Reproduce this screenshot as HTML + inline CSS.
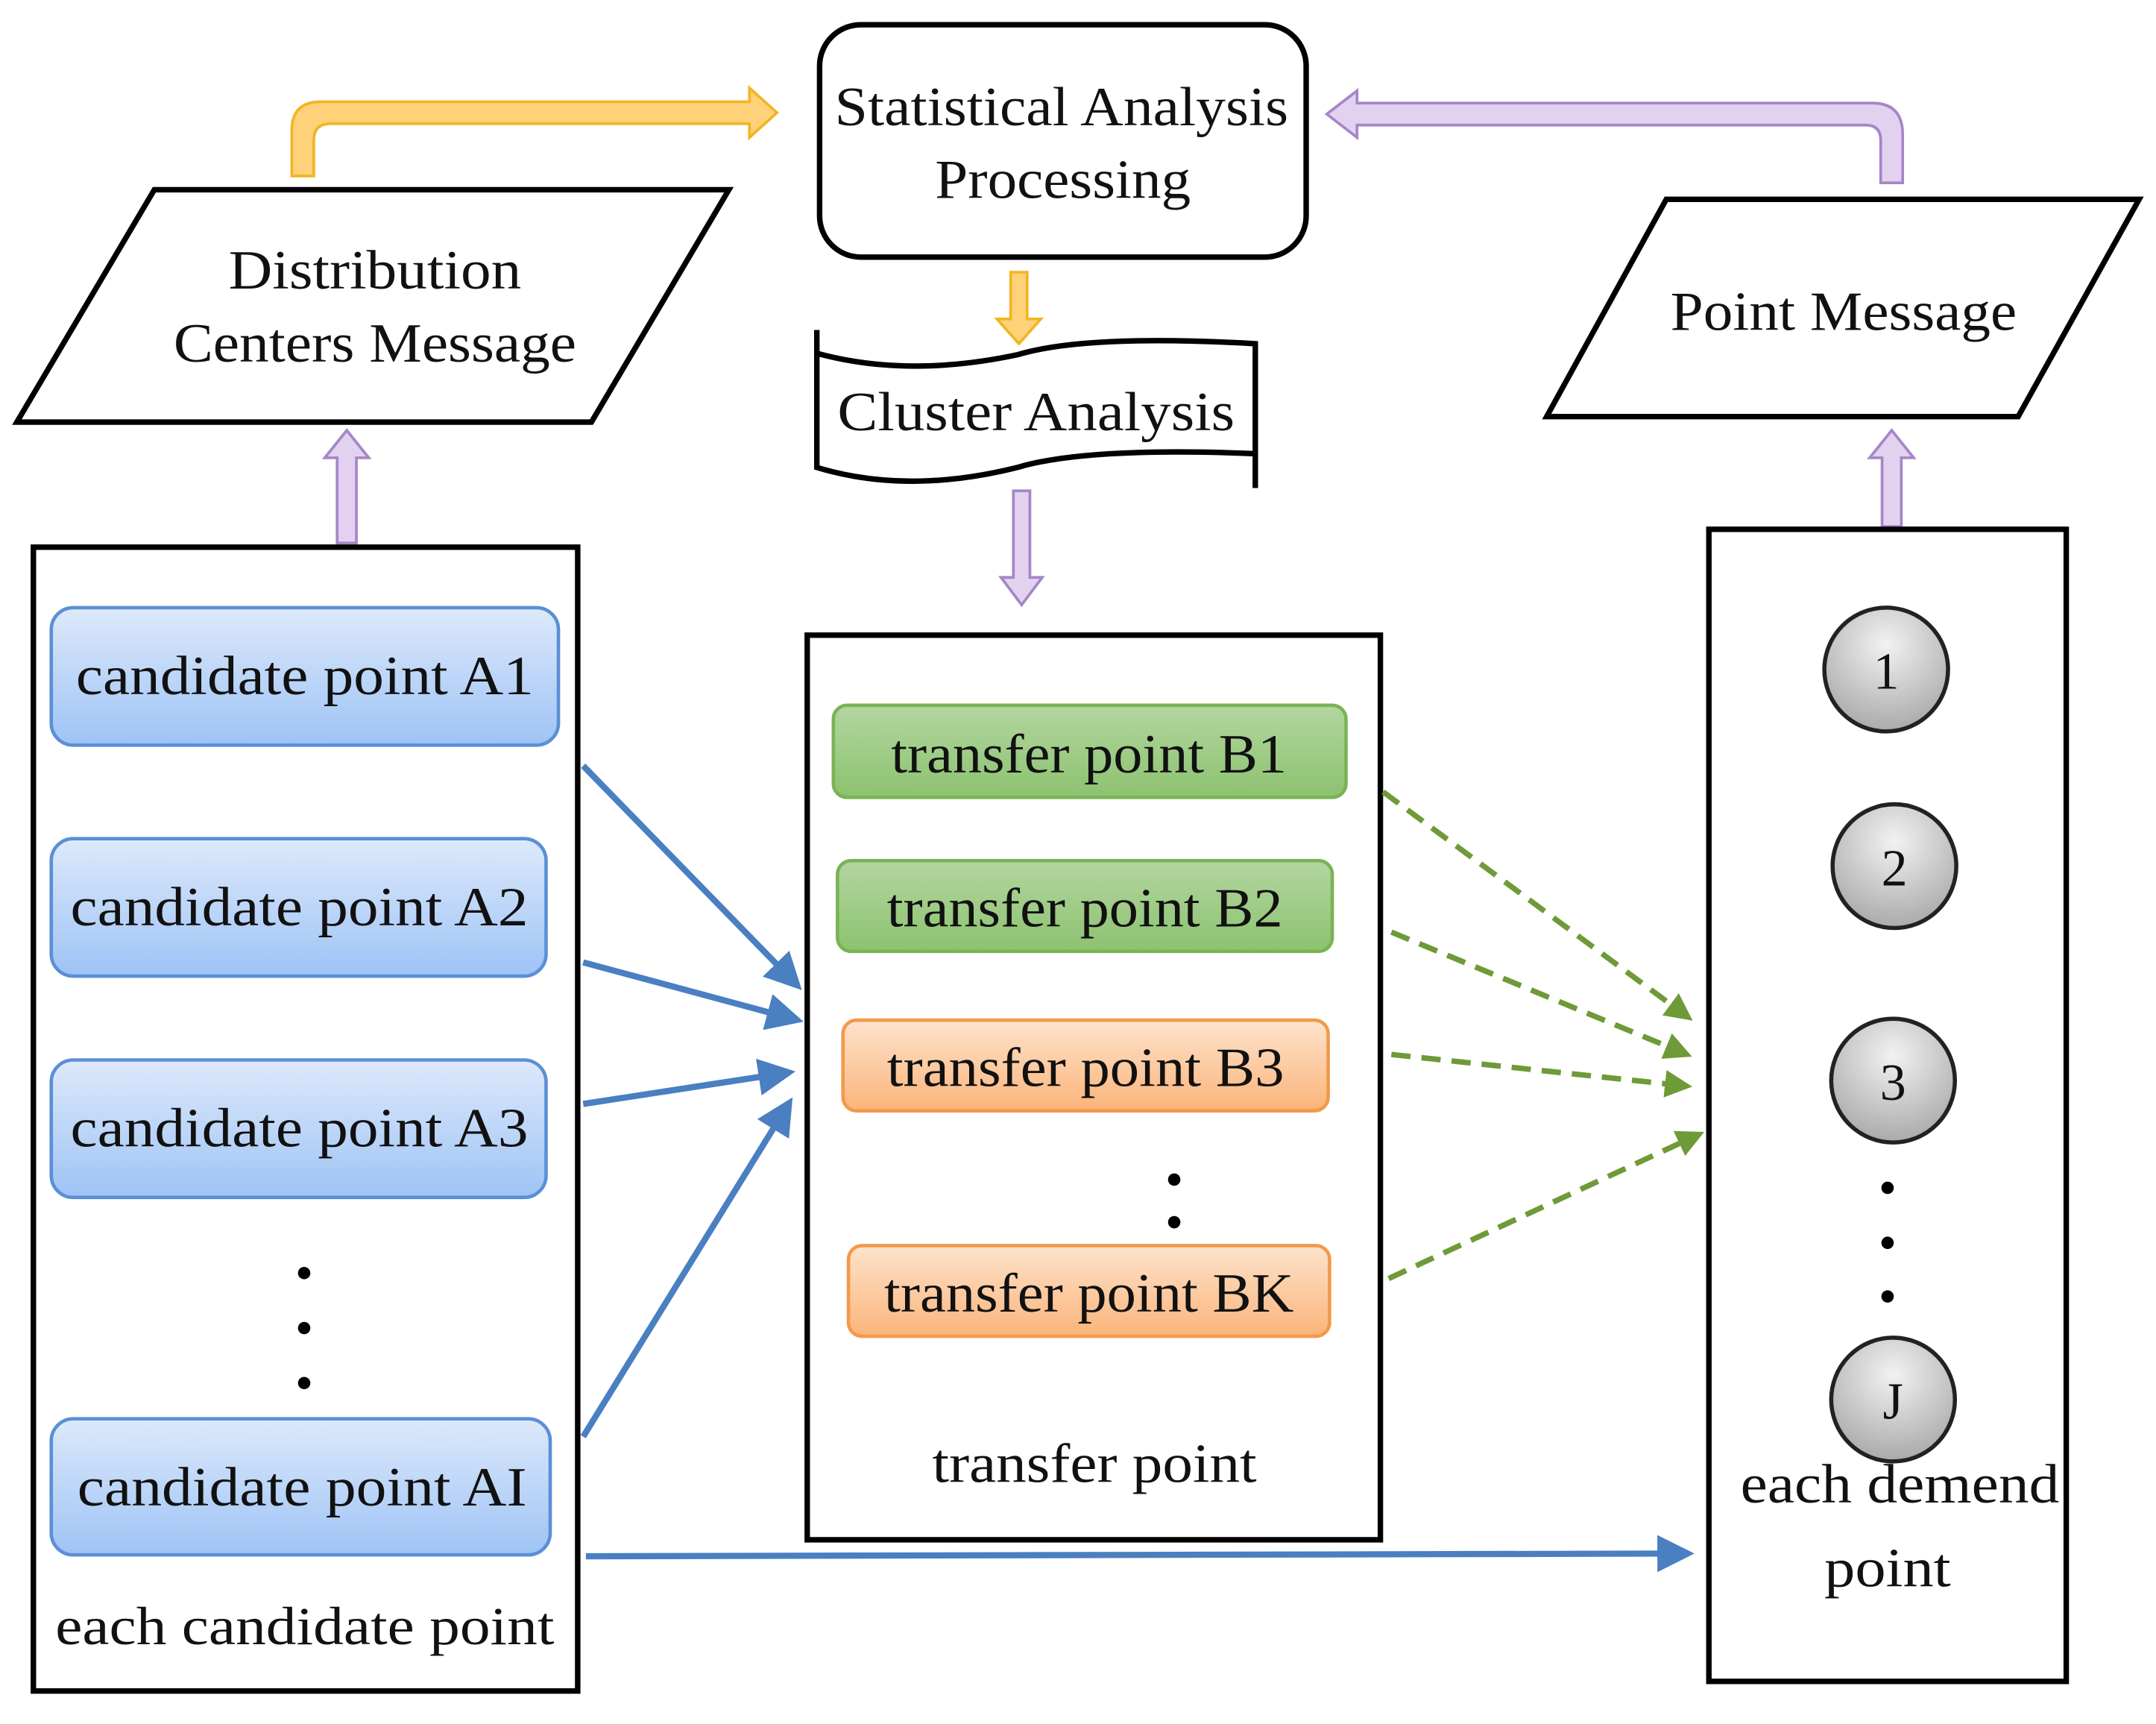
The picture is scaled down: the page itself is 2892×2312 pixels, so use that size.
<!DOCTYPE html>
<html><head><style>html,body{margin:0;padding:0;background:#fff}svg{display:block}text{font-family:"Liberation Serif",serif;fill:#111}</style></head>
<body>
<svg width="2892" height="2312" viewBox="0 0 1568 1254" xmlns="http://www.w3.org/2000/svg">
<defs>
<linearGradient id="gb" x1="0" y1="0" x2="0" y2="1"><stop offset="0" stop-color="#dde9fb"/><stop offset="1" stop-color="#9ec3f5"/></linearGradient>
<linearGradient id="gg" x1="0" y1="0" x2="0" y2="1"><stop offset="0" stop-color="#b3d6a0"/><stop offset="1" stop-color="#8cc26f"/></linearGradient>
<linearGradient id="go" x1="0" y1="0" x2="0" y2="1"><stop offset="0" stop-color="#fde3cc"/><stop offset="1" stop-color="#fbb47a"/></linearGradient>
<radialGradient id="gc" cx="0.5" cy="0.3" r="0.7"><stop offset="0" stop-color="#f2f2f2"/><stop offset="1" stop-color="#aaa"/></radialGradient>
<marker id="ab" markerWidth="6" markerHeight="6" refX="5" refY="3" orient="auto" markerUnits="strokeWidth"><path d="M0,0 L6,3 L0,6 z" fill="#4a7fc1"/></marker>
<marker id="ag" markerWidth="5" markerHeight="5" refX="4" refY="2.5" orient="auto" markerUnits="strokeWidth"><path d="M0,0 L5,2.5 L0,5 z" fill="#6f9a38"/></marker>
</defs>

<rect x="596" y="18" width="354" height="169" rx="30" fill="#fff" stroke="#000" stroke-width="4"/>
<text x="607" y="91" font-size="40" textLength="330" lengthAdjust="spacingAndGlyphs">Statistical Analysis</text>
<text x="680" y="144" font-size="40" textLength="186" lengthAdjust="spacingAndGlyphs">Processing</text>

<path d="M212,128 L212,95 Q212,74 233,74 L545,74 L545,64 L565,82 L545,100 L545,90 L240,90 Q228,90 228,102 L228,128 Z" fill="#ffd27a" stroke="#f2b522" stroke-width="2"/>
<path d="M735,198 L747,198 L747,232 L757,232 L741,250 L725,232 L735,232 Z" fill="#ffd27a" stroke="#f2b522" stroke-width="2"/>

<polygon points="12,307 112,138 530,138 430,307" fill="#fff" stroke="#000" stroke-width="4"/>
<text x="166" y="210" font-size="40" textLength="213" lengthAdjust="spacingAndGlyphs">Distribution</text>
<text x="126" y="263" font-size="40" textLength="293" lengthAdjust="spacingAndGlyphs">Centers Message</text>

<path d="M245,395 L245,333 L236,333 L252,313 L268,333 L259,333 L259,395 Z" fill="#e2d2f0" stroke="#a586c7" stroke-width="2"/>
<path d="M1369,383 L1369,333 L1360,333 L1376,313 L1392,333 L1383,333 L1383,383 Z" fill="#e2d2f0" stroke="#a586c7" stroke-width="2"/>
<path d="M737,357 L749,357 L749,420 L758,420 L743,440 L728,420 L737,420 Z" fill="#e2d2f0" stroke="#a586c7" stroke-width="2"/>
<path d="M1384,133 L1384,98 Q1384,75 1362,75 L987,75 L987,66 L965,83 L987,100 L987,91 L1357,91 Q1368,91 1368,102 L1368,133 Z" fill="#e2d2f0" stroke="#a586c7" stroke-width="2"/>

<path d="M594,257 Q660,275 740,258 Q790,243 913,250 L913,330 Q790,325 740,340 Q660,360 594,340 Z" fill="#fff"/>
<path d="M594,240 L594,340 Q660,360 740,340 Q790,325 913,330 L913,355 M594,257 Q660,275 740,258 Q790,243 913,250 L913,330" fill="none" stroke="#000" stroke-width="4"/>
<text x="609" y="313" font-size="40" textLength="289" lengthAdjust="spacingAndGlyphs">Cluster Analysis</text>

<polygon points="1125,303 1212,145 1556,145 1468,303" fill="#fff" stroke="#000" stroke-width="4"/>
<text x="1215" y="240" font-size="40" textLength="252" lengthAdjust="spacingAndGlyphs">Point Message</text>

<rect x="24" y="398" width="396" height="832" fill="#fff" stroke="#000" stroke-width="4"/>
<g stroke="#5b8fd6" stroke-width="2.5" fill="url(#gb)">
<rect x="37" y="442" width="369" height="100" rx="16"/>
<rect x="37" y="610" width="360" height="100" rx="16"/>
<rect x="37" y="771" width="360" height="100" rx="16"/>
<rect x="37" y="1032" width="363" height="99" rx="16"/>
</g>
<text x="55" y="505" font-size="40" textLength="333" lengthAdjust="spacingAndGlyphs">candidate point A1</text>
<text x="51" y="673" font-size="40" textLength="333" lengthAdjust="spacingAndGlyphs">candidate point A2</text>
<text x="51" y="834" font-size="40" textLength="333" lengthAdjust="spacingAndGlyphs">candidate point A3</text>
<text x="56" y="1095" font-size="40" textLength="327" lengthAdjust="spacingAndGlyphs">candidate point AI</text>
<circle cx="221" cy="926" r="4.5" fill="#000"/><circle cx="221" cy="966" r="4.5" fill="#000"/><circle cx="221" cy="1006" r="4.5" fill="#000"/>
<text x="40" y="1196" font-size="39" textLength="363" lengthAdjust="spacingAndGlyphs">each candidate point</text>

<rect x="587" y="462" width="417" height="658" fill="#fff" stroke="#000" stroke-width="4"/>
<rect x="606" y="513" width="373" height="67" rx="10" fill="url(#gg)" stroke="#7ab356" stroke-width="2.5"/>
<rect x="609" y="626" width="360" height="66" rx="10" fill="url(#gg)" stroke="#7ab356" stroke-width="2.5"/>
<rect x="613" y="742" width="353" height="66" rx="10" fill="url(#go)" stroke="#f29a4a" stroke-width="2.5"/>
<rect x="617" y="906" width="350" height="66" rx="10" fill="url(#go)" stroke="#f29a4a" stroke-width="2.5"/>
<text x="648" y="562" font-size="40" textLength="288" lengthAdjust="spacingAndGlyphs">transfer point B1</text>
<text x="645" y="674" font-size="40" textLength="288" lengthAdjust="spacingAndGlyphs">transfer point B2</text>
<text x="645" y="790" font-size="40" textLength="289" lengthAdjust="spacingAndGlyphs">transfer point B3</text>
<text x="643" y="954" font-size="40" textLength="298" lengthAdjust="spacingAndGlyphs">transfer point BK</text>
<circle cx="854" cy="858" r="4.5" fill="#000"/><circle cx="854" cy="889" r="4.5" fill="#000"/>
<text x="678" y="1078" font-size="40" textLength="236" lengthAdjust="spacingAndGlyphs">transfer point</text>

<rect x="1243" y="385" width="260" height="838" fill="#fff" stroke="#000" stroke-width="4"/>
<g stroke="#222" stroke-width="3" fill="url(#gc)">
<circle cx="1372" cy="487" r="45"/><circle cx="1378" cy="630" r="45"/><circle cx="1377" cy="786" r="45"/><circle cx="1377" cy="1018" r="45"/>
</g>
<text x="1372" y="501" font-size="38" text-anchor="middle">1</text>
<text x="1378" y="644" font-size="38" text-anchor="middle">2</text>
<text x="1377" y="800" font-size="38" text-anchor="middle">3</text>
<text x="1377" y="1032" font-size="38" text-anchor="middle">J</text>
<circle cx="1373" cy="864" r="4.5" fill="#000"/><circle cx="1373" cy="904" r="4.5" fill="#000"/><circle cx="1373" cy="943" r="4.5" fill="#000"/>
<text x="1266" y="1093" font-size="40" textLength="232" lengthAdjust="spacingAndGlyphs">each demend</text>
<text x="1327" y="1154" font-size="40" textLength="92" lengthAdjust="spacingAndGlyphs">point</text>

<g stroke="#4a7fc1" stroke-width="4.5" fill="none" marker-end="url(#ab)">
<line x1="424" y1="557" x2="580" y2="717"/>
<line x1="424" y1="700" x2="580" y2="742"/>
<line x1="424" y1="803" x2="574" y2="780"/>
<line x1="424" y1="1045" x2="574" y2="802"/>
<line x1="426" y1="1132" x2="1228" y2="1130"/>
</g>
<g stroke="#6f9a38" stroke-width="4" fill="none" stroke-dasharray="14,8" marker-end="url(#ag)">
<line x1="1006" y1="576" x2="1228" y2="740"/>
<line x1="1012" y1="678" x2="1227" y2="767"/>
<line x1="1012" y1="767" x2="1227" y2="790"/>
<line x1="1010" y1="930" x2="1236" y2="825"/>
</g>
</svg>
</body></html>
